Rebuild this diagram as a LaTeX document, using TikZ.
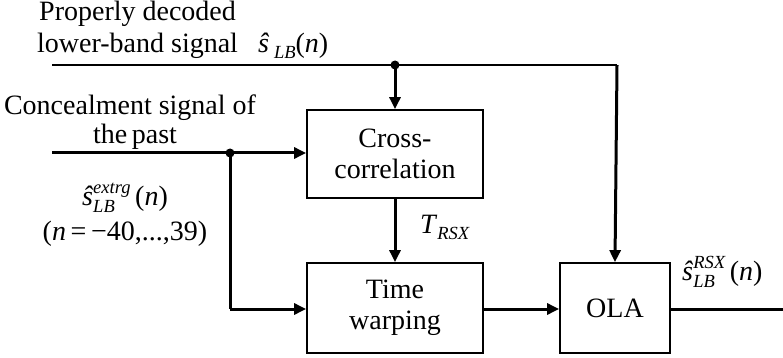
\documentclass[tikz,border=0pt]{standalone}
\usepackage{fontspec}
\setmainfont{Liberation Serif}
\usetikzlibrary{arrows.meta}
\newcommand\subfnt{\fontsize{18.5}{18.5}\selectfont\itshape}
\newcommand\MySub[1]{\raisebox{-6pt}{\subfnt #1}}
\newcommand\MySubSup[2]{\setbox0\hbox{\subfnt #1}\setbox2\hbox{\subfnt #2}%
  \ifdim\wd0>\wd2 \dimen0=\wd0 \else \dimen0=\wd2 \fi
  \makebox[\dimen0][l]{\rlap{\raisebox{-7pt}{\box0}}\raisebox{11.5pt}{\box2}}}
\begin{document}
\begin{tikzpicture}[x=1pt,y=-1pt,
  font=\fontsize{28}{31}\selectfont,
  block/.style={draw, line width=1.8pt, inner sep=0pt, align=center},
  lbl/.style={inner sep=0pt, align=center},
  thk/.style={line width=3pt},
  thn/.style={line width=1.8pt},
  arr/.style={-{Triangle[length=12pt,width=11pt]}},
  dot/.style={circle, fill, inner sep=0pt, minimum size=9pt}]
\useasboundingbox (0,0) rectangle (783,358);

% blocks
\node[block, minimum width=176pt, minimum height=88pt] (cc) at (395,154) {Cross-\\correlation};
\node[block, minimum width=176pt, minimum height=90pt] (tw) at (395,308) {Time\\warping};
\node[block, minimum width=110pt, minimum height=90pt] (ola) at (615,308) {OLA};

% junctions and free ends
\coordinate (topstart) at (52,65);
\node[dot] (d1) at (395,65) {};
\coordinate (topright) at (617,65);
\coordinate (cstart) at (52,153);
\node[dot] (d2) at (230,153) {};
\coordinate (corner) at (230,309);
\coordinate (outend) at (796,309);

% connectors
\draw[thn] (topstart) -- (d1.center) -- (topright);
\draw[thk, arr] (d1.center) -- (cc.north);
\draw[thk, arr] (topright) -- (ola.north);
\draw[thk] (cstart) -- (d2.center);
\draw[thk, arr] (d2.center) -- (cc.west |- d2);
\draw[thk] (d2.center) -- (corner);
\draw[thk, arr] (corner) -- (tw.west |- corner);
\draw[thk, arr] (cc.south) -- (tw.north);
\draw[thk, arr] (tw.east |- corner) -- (ola.west |- corner);
\draw[thk, arr] (ola.east |- corner) -- (outend);

% labels
\node[lbl, anchor=base west] (l1) at (39,21) {Properly decoded};
\node[lbl, anchor=base west] (l2) at (37,53) {lower-band signal};
\node[lbl, anchor=base west] (l3) at (258,53) {\textit{ŝ}\,\MySub{LB}(\textit{n})};
\node[lbl, anchor=base] (l4) at (130,115) {Concealment signal of};
\node[lbl, anchor=base] (l5) at (135,143) {the\,past};
\node[lbl, anchor=base] (l6) at (125,205) {\textit{ŝ}\MySubSup{LB}{extrg}\,(\textit{n})};
\node[lbl, anchor=base] (l7) at (125,240) {(\textit{n}\,=\,−40,...,39)};
\node[lbl, anchor=base west] (l8) at (420,233) {\textit{T}\MySub{RSX}};
\node[lbl, anchor=base west] (l9) at (682,280) {\textit{ŝ}\MySubSup{LB}{RSX}\,(\textit{n})};
\end{tikzpicture}
\end{document}
